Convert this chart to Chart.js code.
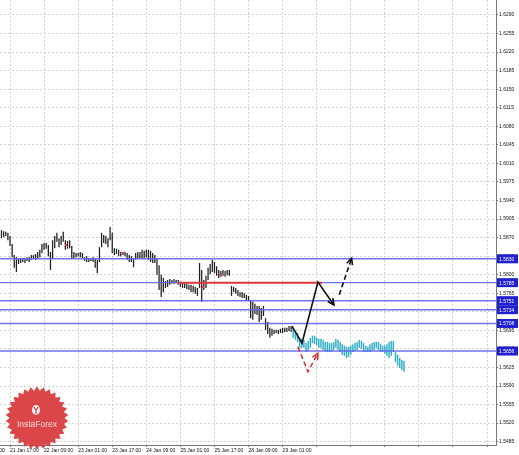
<!DOCTYPE html>
<html>
<head>
<meta charset="utf-8">
<style>
  html, body { margin: 0; padding: 0; background: #fff; }
  canvas { display: block; }
</style>
</head>
<body>
<canvas id="chart" width="519" height="455"></canvas>
<script src="https://cdn.jsdelivr.net/npm/chart.js@4.4.1/dist/chart.umd.min.js"></script>
<script>
// hourly bars, x = bar number counted from 21 Jan 17:00
const histStart = -4
const histHigh = [
  1.5884, 1.5882, 1.5881, 1.5879, 1.5873, 1.5858, 1.5837, 1.5833, 1.5831, 1.5830,
  1.5831, 1.5831, 1.5833, 1.5833, 1.5837, 1.5837, 1.5839, 1.5843, 1.5847, 1.5858,
  1.5860, 1.5860, 1.5856, 1.5843, 1.5865, 1.5873, 1.5879, 1.5869, 1.5873, 1.5881,
  1.5865, 1.5864, 1.5865, 1.5854, 1.5843, 1.5841, 1.5841, 1.5843, 1.5841, 1.5833,
  1.5835, 1.5831, 1.5831, 1.5833, 1.5830, 1.5828, 1.5852, 1.5879, 1.5875, 1.5873,
  1.5869, 1.5890, 1.5879, 1.5850, 1.5849, 1.5847, 1.5843, 1.5843, 1.5843, 1.5841,
  1.5837, 1.5835, 1.5831, 1.5841, 1.5843, 1.5843, 1.5847, 1.5845, 1.5847, 1.5847,
  1.5845, 1.5841, 1.5837, 1.5831, 1.5818, 1.5800, 1.5794, 1.5788, 1.5790, 1.5792,
  1.5790, 1.5792, 1.5790, 1.5790, 1.5786, 1.5786, 1.5784, 1.5783, 1.5781, 1.5781,
  1.5779, 1.5777, 1.5775, 1.5822, 1.5809, 1.5790, 1.5798, 1.5813, 1.5820, 1.5828,
  1.5824, 1.5816, 1.5809, 1.5807, 1.5809, 1.5807, 1.5809, 1.5809, 1.5779, 1.5777,
  1.5775, 1.5771, 1.5767, 1.5767, 1.5765, 1.5762, 1.5760, 1.5752, 1.5749, 1.5745,
  1.5741, 1.5741, 1.5737, 1.5741, 1.5718, 1.5711, 1.5700, 1.5698, 1.5696, 1.5696,
  1.5696, 1.5698, 1.5700, 1.5700, 1.5700, 1.5703, 1.5703
]
const histLow = [
  1.5869, 1.5871, 1.5873, 1.5865, 1.5854, 1.5833, 1.5813, 1.5805, 1.5820, 1.5822,
  1.5824, 1.5822, 1.5826, 1.5824, 1.5828, 1.5830, 1.5828, 1.5831, 1.5833, 1.5841,
  1.5847, 1.5849, 1.5835, 1.5809, 1.5831, 1.5850, 1.5862, 1.5852, 1.5856, 1.5862,
  1.5847, 1.5849, 1.5850, 1.5831, 1.5831, 1.5833, 1.5835, 1.5833, 1.5831, 1.5826,
  1.5824, 1.5824, 1.5826, 1.5824, 1.5813, 1.5803, 1.5824, 1.5852, 1.5860, 1.5858,
  1.5852, 1.5865, 1.5841, 1.5837, 1.5839, 1.5835, 1.5835, 1.5837, 1.5835, 1.5828,
  1.5824, 1.5824, 1.5814, 1.5828, 1.5830, 1.5831, 1.5831, 1.5830, 1.5833, 1.5828,
  1.5824, 1.5822, 1.5822, 1.5800, 1.5771, 1.5758, 1.5767, 1.5775, 1.5777, 1.5781,
  1.5783, 1.5783, 1.5784, 1.5781, 1.5777, 1.5775, 1.5775, 1.5773, 1.5771, 1.5767,
  1.5767, 1.5764, 1.5760, 1.5775, 1.5749, 1.5771, 1.5775, 1.5790, 1.5801, 1.5805,
  1.5803, 1.5798, 1.5794, 1.5796, 1.5798, 1.5796, 1.5799, 1.5798, 1.5760, 1.5767,
  1.5764, 1.5760, 1.5758, 1.5756, 1.5756, 1.5752, 1.5750, 1.5718, 1.5715, 1.5726,
  1.5724, 1.5711, 1.5715, 1.5722, 1.5696, 1.5688, 1.5681, 1.5685, 1.5688, 1.5690,
  1.5688, 1.5690, 1.5690, 1.5692, 1.5692, 1.5694, 1.5692
]

// forecast bars (cyan)
const fcStart = 133
const fcHigh = [
  1.5700, 1.5694, 1.5690, 1.5681, 1.5679, 1.5677, 1.5671, 1.5675, 1.5681, 1.5685,
  1.5685, 1.5681, 1.5679, 1.5679, 1.5677, 1.5673, 1.5673, 1.5671, 1.5671, 1.5673,
  1.5679, 1.5677, 1.5673, 1.5669, 1.5666, 1.5664, 1.5664, 1.5666, 1.5669, 1.5671,
  1.5673, 1.5677, 1.5675, 1.5671, 1.5666, 1.5664, 1.5669, 1.5671, 1.5673, 1.5673,
  1.5673, 1.5669, 1.5666, 1.5666, 1.5669, 1.5673, 1.5675, 1.5675, 1.5654, 1.5649,
  1.5643, 1.5639, 1.5637
]
const fcLow = [
  1.5681, 1.5677, 1.5673, 1.5662, 1.5662, 1.5662, 1.5654, 1.5656, 1.5662, 1.5671,
  1.5669, 1.5667, 1.5662, 1.5662, 1.5658, 1.5656, 1.5654, 1.5654, 1.5654, 1.5658,
  1.5662, 1.5658, 1.5654, 1.5649, 1.5647, 1.5643, 1.5645, 1.5649, 1.5654, 1.5656,
  1.5658, 1.5662, 1.5660, 1.5654, 1.5654, 1.5654, 1.5654, 1.5656, 1.5658, 1.5662,
  1.5658, 1.5654, 1.5654, 1.5651, 1.5647, 1.5643, 1.5647, 1.5654, 1.5635, 1.5628,
  1.5624, 1.5620, 1.5617
]

// horizontal levels
const blueLevels = [1.5830, 1.5785, 1.5751, 1.5734, 1.5708, 1.5656]
const redLevel = 1.5785
const redFrom = 79
const redTo = 146.5

// arrows
const mainPathX = [132.4, 137.1, 144.6, 152.1]
const mainPathY = [1.5703, 1.5671, 1.5786, 1.5743]
const altPathX = [154.6, 160.4]
const altPathY = [1.5762, 1.5831]
const redPathX = [135.2, 139.9, 144.6]
const redPathY = [1.5664, 1.5617, 1.5652]

// small red marks on the bars
const markX = [26.3, 53, 90.6, 98.6]
const markY = [1.5856, 1.5841, 1.5777, 1.5800]

// axes
const timeTicks = [-16, 0, 16, 32, 48, 64, 80, 96, 112, 128, 144, 160, 176, 192, 208, 224]
const timeLabels = ['21 Jan 01:00', '21 Jan 17:00', '22 Jan 09:00', '23 Jan 01:00', '23 Jan 17:00',
  '24 Jan 09:00', '25 Jan 01:00', '25 Jan 17:00', '28 Jan 09:00', '29 Jan 01:00']
const priceTicks = [1.5485, 1.5520, 1.5555, 1.5590, 1.5625, 1.5660, 1.5695, 1.5730, 1.5765, 1.5800,
  1.5835, 1.5870, 1.5905, 1.5940, 1.5975, 1.6010, 1.6045, 1.6080, 1.6115, 1.6150,
  1.6185, 1.6220, 1.6255, 1.6290]
const xMin = -4.7
const xMax = 228.2
const yMin = 1.54787
const yMax = 1.63183

const FONT = 'Liberation Sans'

function pts(xs, ys) {
  return xs.map((x, i) => ({ x: x, y: ys[i] }))
}

// arrow heads at the end of the path datasets
const arrowHeads = {
  id: 'arrowHeads',
  afterDatasetsDraw(chart) {
    const ctx = chart.ctx
    chart.data.datasets.forEach((ds, i) => {
      if (!ds.arrowHead) return
      const p = chart.getDatasetMeta(i).data
      const a = p[p.length - 2], b = p[p.length - 1]
      const ang = Math.atan2(b.y - a.y, b.x - a.x)
      ctx.save()
      ctx.strokeStyle = ds.borderColor
      ctx.lineWidth = ds.borderWidth
      ctx.setLineDash([])
      ctx.beginPath()
      ctx.moveTo(b.x - 7 * Math.cos(ang - 0.45), b.y - 7 * Math.sin(ang - 0.45))
      ctx.lineTo(b.x, b.y)
      ctx.lineTo(b.x - 7 * Math.cos(ang + 0.45), b.y - 7 * Math.sin(ang + 0.45))
      ctx.stroke()
      ctx.restore()
    })
  }
}

// price boxes for the blue levels on the right axis
const levelBoxes = {
  id: 'levelBoxes',
  afterDraw(chart) {
    const ctx = chart.ctx
    const y = chart.scales.y
    ctx.save()
    ctx.font = '5px "' + FONT + '"'
    ctx.textBaseline = 'middle'
    blueLevels.forEach(v => {
      const py = y.getPixelForValue(v)
      ctx.fillStyle = '#2020d0'
      ctx.fillRect(y.left + 1, py - 4.5, 21, 9)
      ctx.fillStyle = '#fff'
      ctx.fillText(v.toFixed(4), y.left + 3, py + 0.5)
    })
    ctx.restore()
  }
}

// InstaForex badge
const logo = {
  id: 'logo',
  afterDraw(chart) {
    const ctx = chart.ctx
    const cx = 37, cy = 418, n = 30
    ctx.save()
    ctx.beginPath()
    for (let k = 0; k < n * 2; k++) {
      const r = k % 2 ? 27.5 : 31.5
      const a = Math.PI * k / n - Math.PI / 2
      const px = cx + r * Math.cos(a), py = cy + r * Math.sin(a)
      if (k === 0) ctx.moveTo(px, py); else ctx.lineTo(px, py)
    }
    ctx.closePath()
    ctx.fillStyle = 'rgba(216, 56, 58, 0.93)'
    ctx.fill()
    // little figure
    ctx.fillStyle = '#f6f0f0'
    ctx.beginPath()
    ctx.ellipse(36, 410, 4, 5, 0, 0, Math.PI * 2)
    ctx.fill()
    ctx.strokeStyle = '#d8383a'
    ctx.lineWidth = 1.2
    ctx.beginPath()
    ctx.moveTo(33.8, 407); ctx.lineTo(36, 410); ctx.lineTo(38.2, 407)
    ctx.moveTo(36, 410); ctx.lineTo(36, 414)
    ctx.stroke()
    ctx.fillStyle = 'rgba(248, 232, 232, 0.9)'
    ctx.font = '8.5px "' + FONT + '"'
    ctx.textAlign = 'center'
    ctx.textBaseline = 'alphabetic'
    ctx.fillText('InstaForex', cx, 427)
    ctx.restore()
  }
}

const lineBase = { type: 'line', pointRadius: 0, fill: false, tension: 0 }

const datasets = [
  {
    label: 'history',
    data: histHigh.map((h, i) => ({ x: histStart + i, y: [histLow[i], h] })),
    backgroundColor: '#222',
    grouped: false,
    categoryPercentage: 1,
    barPercentage: 0.6,
    order: 5
  },
  {
    label: 'forecast',
    data: fcHigh.map((h, i) => ({ x: fcStart + i, y: [fcLow[i], h] })),
    backgroundColor: '#34b0c8',
    grouped: false,
    categoryPercentage: 1,
    barPercentage: 0.7,
    order: 5
  }
]

blueLevels.forEach(v => {
  datasets.push(Object.assign({}, lineBase, {
    label: 'level ' + v,
    data: [{ x: xMin, y: v }, { x: xMax, y: v }],
    borderColor: 'rgba(96, 96, 245, 0.9)',
    borderWidth: 1.4,
    order: 4
  }))
})

datasets.push(Object.assign({}, lineBase, {
  label: 'red level',
  data: [{ x: redFrom, y: redLevel }, { x: redTo, y: redLevel }],
  borderColor: '#e03a3a',
  borderWidth: 2,
  order: 3
}))

datasets.push(Object.assign({}, lineBase, {
  label: 'marks',
  data: pts(markX, markY),
  showLine: false,
  pointRadius: 2,
  pointStyle: 'crossRot',
  pointBorderColor: '#e04040',
  pointBorderWidth: 1,
  order: 3
}))

datasets.push(Object.assign({}, lineBase, {
  label: 'main path',
  data: pts(mainPathX, mainPathY),
  borderColor: '#111',
  borderWidth: 1.6,
  arrowHead: true,
  order: 1
}))

datasets.push(Object.assign({}, lineBase, {
  label: 'alt path',
  data: pts(altPathX, altPathY),
  borderColor: '#111',
  borderWidth: 1.6,
  borderDash: [5, 3],
  arrowHead: true,
  order: 1
}))

datasets.push(Object.assign({}, lineBase, {
  label: 'red path',
  data: pts(redPathX, redPathY),
  borderColor: '#e03030',
  borderWidth: 1.5,
  borderDash: [5, 3],
  arrowHead: true,
  order: 1
}))

new Chart(document.getElementById('chart'), {
  type: 'bar',
  data: { datasets: datasets },
  options: {
    responsive: false,
    animation: false,
    devicePixelRatio: 1,
    layout: { padding: 0, autoPadding: false },
    plugins: { legend: { display: false }, tooltip: { enabled: false } },
    scales: {
      x: {
        type: 'linear',
        position: 'bottom',
        min: xMin,
        max: xMax,
        offset: false,
        grid: { offset: false, color: '#d2d2d2', tickLength: 2, tickColor: '#777' },
        border: { color: '#7a7a7a', dash: [2, 2] },
        afterBuildTicks: s => { s.ticks = timeTicks.map(v => ({ value: v })) },
        afterFit: s => { s.height = 10; s.paddingLeft = 0; s.paddingRight = 0 },
        ticks: {
          autoSkip: false,
          maxRotation: 0,
          align: 'start',
          padding: 1,
          color: '#111',
          font: { family: FONT, size: 5 },
          callback: (v, i) => timeLabels[i] || ''
        }
      },
      y: {
        type: 'linear',
        position: 'right',
        min: yMin,
        max: yMax,
        grid: { color: '#d2d2d2', tickLength: 2, tickColor: '#777' },
        border: { color: '#7a7a7a', dash: [2, 2] },
        afterBuildTicks: s => { s.ticks = priceTicks.map(v => ({ value: v })) },
        afterFit: s => { s.width = 23; s.paddingTop = 0; s.paddingBottom = 0 },
        ticks: {
          padding: 1,
          color: '#111',
          font: { family: FONT, size: 5 },
          callback: v => Number(v).toFixed(4)
        }
      }
    }
  },
  plugins: [arrowHeads, levelBoxes, logo]
})
</script>
</body>
</html>
